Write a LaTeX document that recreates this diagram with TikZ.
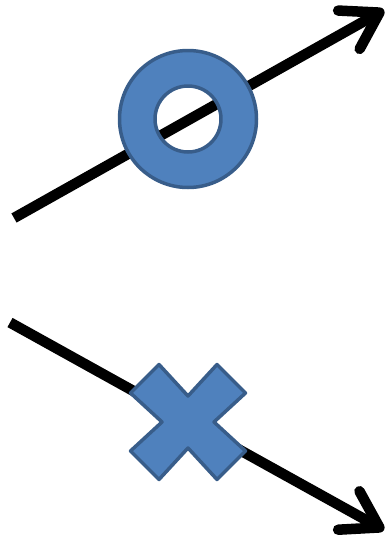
\documentclass[tikz,border=0pt]{standalone}
\usepackage{xcolor}
\usepackage{tikz}
\usetikzlibrary{arrows.meta, calc}

\definecolor{shapeblue}{HTML}{4F81BD}
\definecolor{shapeedge}{HTML}{385D8A}

\begin{document}
\begin{tikzpicture}[
    x=1pt, y=-1pt,
    flow/.style={line width=10.5pt, line cap=butt, -{Straight Barb[round, length=35pt, width=44pt]}},
    mark shape/.style={fill=shapeblue, draw=shapeedge, line width=3.5pt, line join=round}
]
    \useasboundingbox (0,0) rectangle (386,539);

    \coordinate (upstart) at (14,218);
    \coordinate (upend) at (384,10);
    \coordinate (ringc) at (188,119);
    \coordinate (downstart) at (10,322.5);
    \coordinate (downend) at (384,530);
    \coordinate (crossc) at (188,422);

    \draw[flow] (upstart) -- (upend);
    \draw[flow] (downstart) -- (downend);

    % ring over the rising arrow
    \path[mark shape, even odd rule] (ringc) circle[radius=68.5pt] (ringc) circle[radius=33pt];

    % cross over the falling arrow
    \path[mark shape, shift={(crossc)}] (-29,-57.5) -- (0,-26) -- (29,-57.5) -- (57.5,-29)
        -- (26,0) -- (57.5,29) -- (29,57.5) -- (0,26) -- (-29,57.5) -- (-57.5,29)
        -- (-26,0) -- (-57.5,-29) -- cycle;
\end{tikzpicture}
\end{document}
